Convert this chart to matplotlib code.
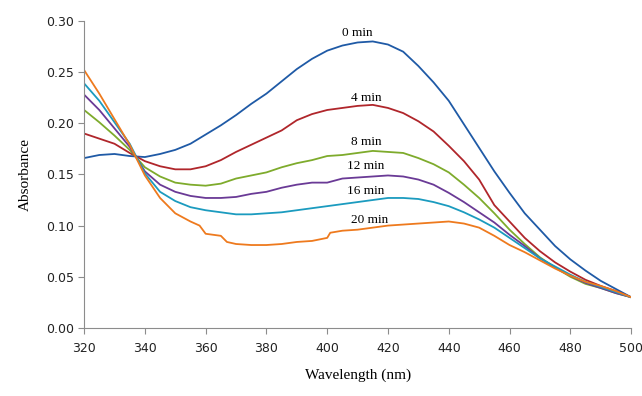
import matplotlib
matplotlib.use("Agg")
import matplotlib.pyplot as plt

wavelength = list(range(320, 505, 5))

a0 = [.166, .169, .170, .168, .167, .170, .174, .180, .189, .198, .208, .219, .229,
      .241, .253, .263, .271, .276, .279, .280, .277, .270, .256, .240, .222, .199,
      .176, .153, .132, .112, .096, .080, .067, .056, .046, .038, .030]
a4 = [.190, .185, .180, .171, .163, .158, .155, .155, .158, .164, .172, .179, .186,
      .193, .203, .209, .213, .215, .217, .218, .215, .210, .202, .192, .178, .163,
      .145, .120, .104, .088, .075, .064, .055, .047, .041, .036, .030]
a8 = [.213, .201, .188, .174, .157, .148, .142, .140, .139, .141, .146, .149, .152,
      .157, .161, .164, .168, .169, .171, .173, .172, .171, .166, .160, .152, .140,
      .127, .112, .096, .082, .069, .059, .050, .043, .039, .034, .030]
a12 = [.228, .213, .195, .177, .153, .140, .133, .129, .127, .127, .128, .131, .133,
       .137, .140, .142, .142, .146, .147, .148, .149, .148, .145, .140, .132, .123,
       .113, .103, .091, .080, .068, .059, .051, .044, .039, .034, .030]
a16 = [.239, .222, .201, .180, .151, .133, .124, .118, .115, .113, .111, .111, .112,
       .113, .115, .117, .119, .121, .123, .125, .127, .127, .126, .123, .119, .113,
       .106, .098, .088, .078, .068, .060, .052, .045, .040, .035, .030]

wl20 = [320, 325, 330, 335, 340, 345, 350, 355, 358, 360, 365, 367, 370, 375, 380,
        385, 390, 395, 400, 401, 405, 410, 415, 420, 425, 430, 435, 440, 445, 450,
        455, 460, 465, 470, 475, 480, 485, 490, 495, 500]
a20 = [.252, .229, .204, .179, .149, .127, .112, .104, .100, .092, .090, .084, .082,
       .081, .081, .082, .084, .085, .088, .093, .095, .096, .098, .100, .101, .102,
       .103, .104, .102, .098, .090, .081, .074, .066, .058, .051, .045, .041, .036, .030]

series = [
    (wavelength, a0, "#1f5aa6", "0 min", 409.8, 0.288),
    (wavelength, a4, "#b0262b", "4 min", 412.8, 0.225),
    (wavelength, a8, "#7eab2c", "8 min", 412.8, 0.182),
    (wavelength, a12, "#6a3a96", "12 min", 412.8, 0.158),
    (wavelength, a16, "#1b9bbf", "16 min", 412.8, 0.134),
    (wl20, a20, "#ee7a1e", "20 min", 413.8, 0.105),
]

fig = plt.figure(figsize=(6.42, 3.96), dpi=100)
ax = fig.add_axes([0.131, 0.172, 0.852, 0.775])

for x, y, c, lab, tx, ty in series:
    ax.plot(x, y, color=c, lw=1.3)
    ax.text(tx, ty, lab, family="Liberation Serif", fontsize=9.5,
            ha="center", va="center")

ax.set_xlim(320, 500)
ax.set_ylim(0, 0.30)
ax.set_xticks(range(320, 501, 20))
ax.set_yticks([0, 0.05, 0.10, 0.15, 0.20, 0.25, 0.30])
ax.set_yticklabels(["0.00", "0.05", "0.10", "0.15", "0.20", "0.25", "0.30"])

for s in ["top", "right"]:
    ax.spines[s].set_visible(False)
for s in ["left", "bottom"]:
    ax.spines[s].set_color("#8c8c8c")
ax.tick_params(direction="out", length=4, color="#8c8c8c", labelsize=9,
               labelcolor="#222222")
ax.tick_params(axis="x", pad=6)

ax.set_xlabel("Wavelength (nm)", family="Liberation Serif", fontsize=11, labelpad=10)
ax.set_ylabel("Absorbance", family="Liberation Serif", fontsize=11, labelpad=10)

fig.savefig("out.png", dpi=100)
